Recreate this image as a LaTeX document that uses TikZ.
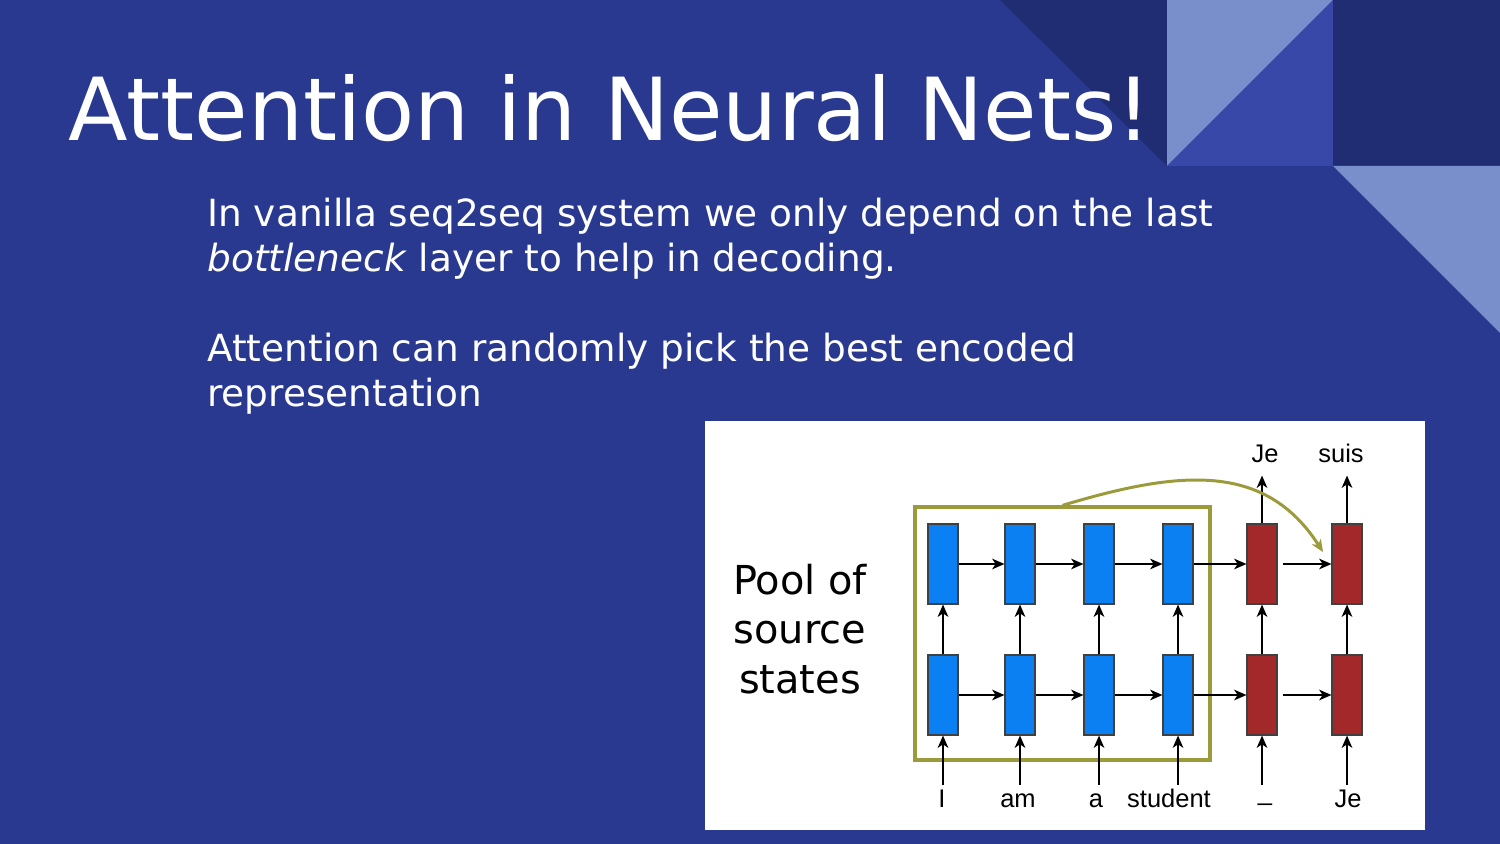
\documentclass[tikz,border=0pt]{standalone}
\usepackage{fontspec}
\setmainfont{DejaVu Sans}
\newfontfamily\diagfont{Liberation Sans}
\usetikzlibrary{arrows.meta}
\definecolor{slidebg}{HTML}{293990}
\definecolor{cornerdark}{HTML}{212D73}
\definecolor{cornerlight}{HTML}{788FCC}
\definecolor{cornermid}{HTML}{3848A8}
\definecolor{encblue}{HTML}{0A80F2}
\definecolor{decred}{HTML}{A3282A}
\definecolor{poololive}{HTML}{9C9B3C}
\tikzset{
  >={Stealth[length=7pt, width=6pt, inset=2pt]},
  encstate/.style={
    rectangle, draw=black!75, fill=encblue, line width=0.6pt,
    minimum width=0.6cm, minimum height=1.6cm, inner sep=0pt
  },
  decstate/.style={encstate, fill=decred},
  word/.style={
    font=\diagfont\fontsize{14.5}{16}\selectfont, anchor=base,
    text height=9pt, text depth=4pt, inner xsep=1pt, inner ysep=3.5pt
  },
  flowarrow/.style={->, line width=1.5pt, black},
  attnarrow/.style={->, line width=1.7pt, poololive},
  poolbox/.style={
    rectangle, draw=poololive, line width=2.3pt,
    minimum width=5.9cm, minimum height=5.05cm, inner sep=0pt
  },
  slidetext/.style={text=white, inner sep=0pt, align=left}
}

\begin{document}
\begin{tikzpicture}[x=0.02cm, y=-0.02cm]
% slide background and corner pattern
\fill[slidebg] (0,0) rectangle (1500,844);
\fill[cornerdark] (1000,0) -- (1167,0) -- (1167,166) -- cycle;
\fill[cornerlight] (1167,0) -- (1333,0) -- (1167,166) -- cycle;
\fill[cornermid] (1333,0) -- (1333,166) -- (1167,166) -- cycle;
\fill[cornerdark] (1333,0) rectangle (1500,166);
\fill[cornerlight] (1333,166) -- (1500,166) -- (1500,333) -- cycle;

\node[slidetext, anchor=base west, font=\fontsize{49.5}{58}\selectfont]
  (title) at (68,141) {Attention in Neural Nets!};
\node[slidetext, anchor=base west, font=\fontsize{21.3}{25.5}\selectfont]
  (body) at (207,406) {In vanilla seq2seq system we only depend on the last\\
  \textit{bottleneck} layer to help in decoding.\\[25.5pt]
  Attention can randomly pick the best encoded\\
  representation};

% figure panel
\fill[white] (705,421) rectangle (1425,830);
\node[align=center, inner sep=0pt, font=\fontsize{22.7}{28.3}\selectfont]
  (pooltext) at (800,629) {Pool of\\source\\states};
\node[poolbox] (pool) at (1062.5,633.6) {};

% encoder states
\node[encstate] (enc1t) at (943,564) {};
\node[encstate] (enc2t) at (1020,564) {};
\node[encstate] (enc3t) at (1099,564) {};
\node[encstate] (enc4t) at (1178,564) {};
\node[encstate] (enc1b) at (943,695) {};
\node[encstate] (enc2b) at (1020,695) {};
\node[encstate] (enc3b) at (1099,695) {};
\node[encstate] (enc4b) at (1178,695) {};
% decoder states
\node[decstate] (dec1t) at (1262,564) {};
\node[decstate] (dec2t) at (1347,564) {};
\node[decstate] (dec1b) at (1262,695) {};
\node[decstate] (dec2b) at (1347,695) {};

% words
\node[word] (in1) at (942,807) {I};
\node[word] (in2) at (1018,807) {am};
\node[word] (in3) at (1096,807) {a};
\node[word] (in4) at (1169,807) {student};
\node[word] (in5) at (1265,807) {\raisebox{0.25em}{\_}};
\node[word] (in6) at (1348,807) {Je};
\node[word] (out1) at (1265,462) {Je};
\node[word] (out2) at (1341,462) {suis};

\draw[flowarrow] (enc1t) -- (enc2t);
\draw[flowarrow] (enc2t) -- (enc3t);
\draw[flowarrow] (enc3t) -- (enc4t);
\draw[flowarrow] (enc4t) -- (dec1t);
\draw[flowarrow, shorten <=3pt] (dec1t) -- (dec2t);
\draw[flowarrow] (enc1b) -- (enc2b);
\draw[flowarrow] (enc2b) -- (enc3b);
\draw[flowarrow] (enc3b) -- (enc4b);
\draw[flowarrow] (enc4b) -- (dec1b);
\draw[flowarrow, shorten <=3pt] (dec1b) -- (dec2b);

\draw[flowarrow] (enc1b) -- (enc1t);
\draw[flowarrow] (enc2b) -- (enc2t);
\draw[flowarrow] (enc3b) -- (enc3t);
\draw[flowarrow] (enc4b) -- (enc4t);
\draw[flowarrow] (dec1b) -- (dec1t);
\draw[flowarrow] (dec2b) -- (dec2t);

\draw[flowarrow] (enc1b.south |- in1.north) -- (enc1b);
\draw[flowarrow] (enc2b.south |- in2.north) -- (enc2b);
\draw[flowarrow] (enc3b.south |- in3.north) -- (enc3b);
\draw[flowarrow] (enc4b.south |- in4.north) -- (enc4b);
\draw[flowarrow] (dec1b.south |- in5.north) -- (dec1b);
\draw[flowarrow] (dec2b.south |- in6.north) -- (dec2b);
\draw[flowarrow] (dec1t) -- (dec1t.north |- out1.south);
\draw[flowarrow] (dec2t) -- (dec2t.north |- out2.south);

% attention link
\coordinate (attn) at (1323,552);
\draw[attnarrow] (pool.north) .. controls (1180,470) and (1265,462) .. (attn);
\end{tikzpicture}
\end{document}
